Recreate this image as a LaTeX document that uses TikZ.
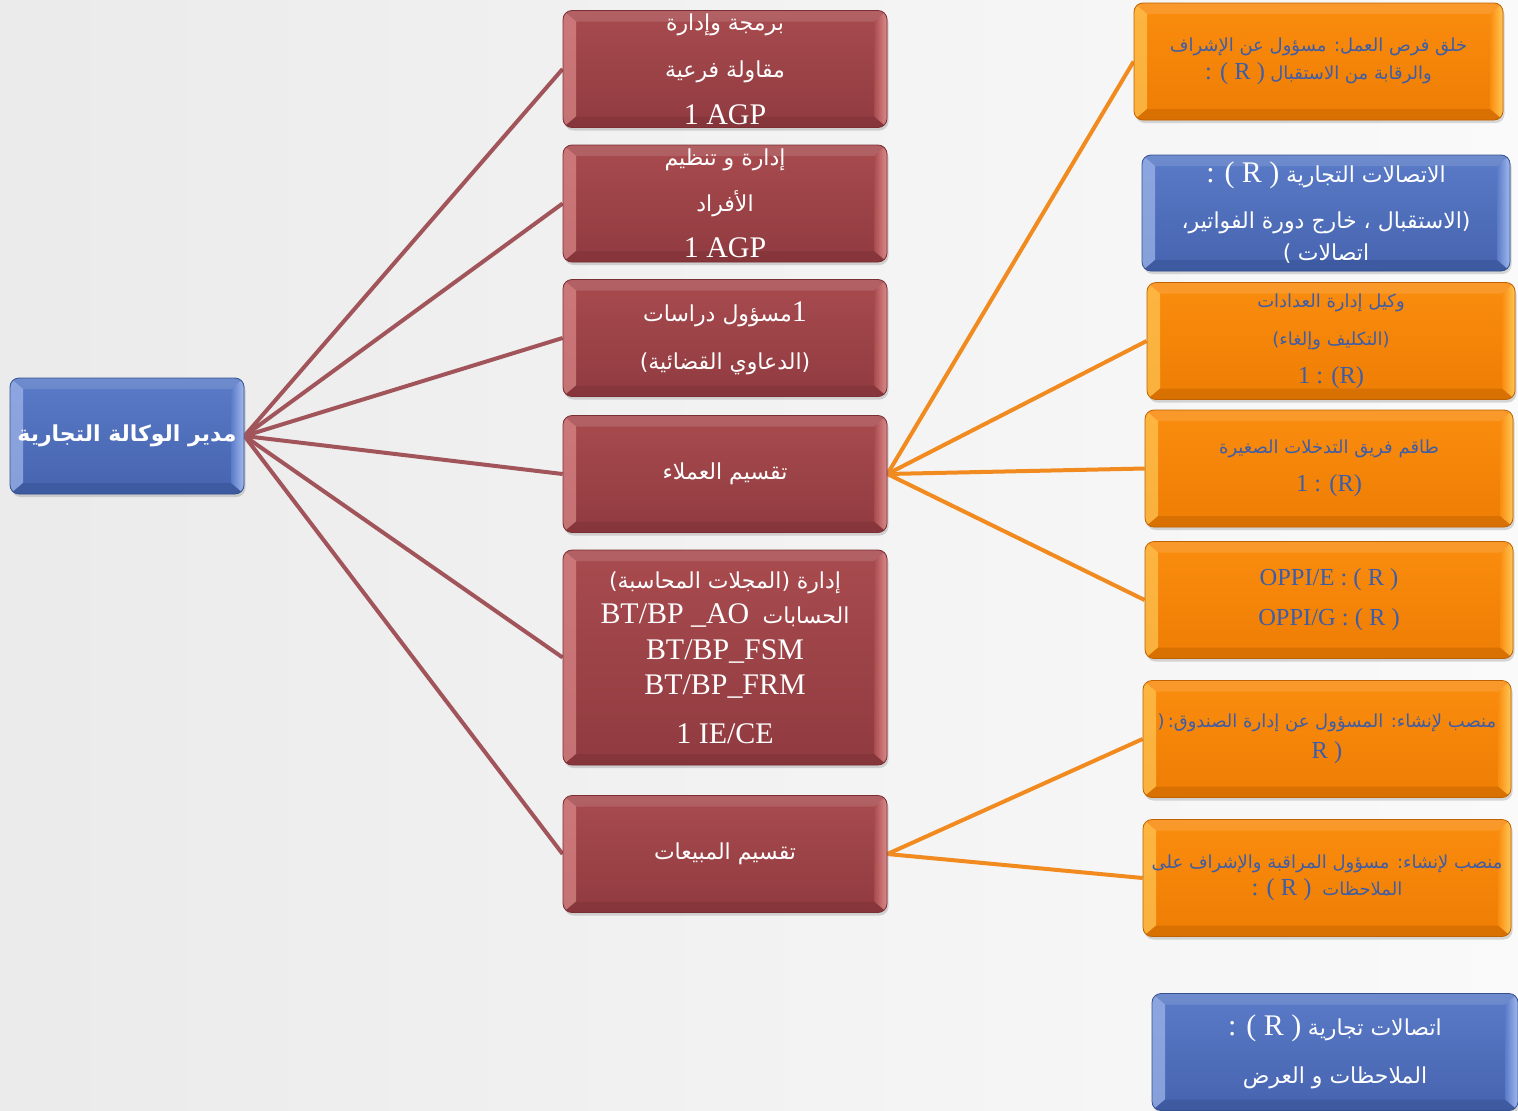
\documentclass[tikz,border=0pt]{standalone}
\usepackage{fontspec}
\usetikzlibrary{shadows,backgrounds}
\TeXXeTstate=1
\newfontfamily\arfont[Script=Arabic]{DejaVu Sans}
\newfontfamily\latfont[Scale=1.36]{Liberation Serif}
\newfontfamily\plainsans{DejaVu Sans}
\newcommand\artxt[1]{{\arfont\beginR #1\endR}}
\newcommand\lattxt[1]{{\latfont #1}}
\newcommand\pun[1]{{\plainsans #1}}

\definecolor{redtop}{HTML}{A84B4F}
\definecolor{redbot}{HTML}{903B40}
\definecolor{redlite}{HTML}{DC8A8A}
\definecolor{rededge}{HTML}{7A2F34}
\definecolor{bluetop}{HTML}{5A7BC8}
\definecolor{bluebot}{HTML}{4663AE}
\definecolor{bluelite}{HTML}{A3B9EC}
\definecolor{blueedge}{HTML}{34508F}
\definecolor{orgtop}{HTML}{FA8C0E}
\definecolor{orgbot}{HTML}{EE7E04}
\definecolor{orglite}{HTML}{FFC756}
\definecolor{orgedge}{HTML}{BF6200}
\definecolor{orgtext}{HTML}{3D5DA8}
\definecolor{redline}{HTML}{A1555A}
\definecolor{orgline}{HTML}{F18B1F}

\tikzset{
  panel/.style n args={4}{
    rounded corners=9pt, draw=#4, line width=0.8pt,
    top color=#1, bottom color=#2, inner sep=0pt, align=center,
    drop shadow={shadow xshift=1.5pt, shadow yshift=-3pt, opacity=.3},
    path picture={
      \fill[sharp corners,#3,opacity=.7]
        (path picture bounding box.north west)
        -- ([xshift=13pt,yshift=-11pt]path picture bounding box.north west)
        -- ([xshift=13pt,yshift=11pt]path picture bounding box.south west)
        -- (path picture bounding box.south west) -- cycle;
      \shade[sharp corners,left color=#1,right color=#3]
        ([xshift=-13pt,yshift=-11pt]path picture bounding box.north east)
        -- (path picture bounding box.north east)
        -- (path picture bounding box.south east)
        -- ([xshift=-13pt,yshift=11pt]path picture bounding box.south east) -- cycle;
      \fill[sharp corners,#4,opacity=.45]
        (path picture bounding box.south west)
        -- ([xshift=13pt,yshift=11pt]path picture bounding box.south west)
        -- ([xshift=-13pt,yshift=11pt]path picture bounding box.south east)
        -- (path picture bounding box.south east) -- cycle;
      \fill[sharp corners,white,opacity=.12]
        (path picture bounding box.north west)
        -- ([xshift=13pt,yshift=-11pt]path picture bounding box.north west)
        -- ([xshift=-13pt,yshift=-11pt]path picture bounding box.north east)
        -- (path picture bounding box.north east) -- cycle;
    }
  },
  redbox/.style={panel={redtop}{redbot}{redlite}{rededge},
    minimum width=324pt, minimum height=117pt, text=white},
  bluebox/.style={panel={bluetop}{bluebot}{bluelite}{blueedge},
    minimum width=368pt, minimum height=116pt, text=white},
  orangebox/.style={panel={orgtop}{orgbot}{orglite}{orgedge},
    minimum width=368pt, minimum height=117pt, text=orgtext},
  redconn/.style={draw=redline, line width=4pt},
  orgconn/.style={draw=orgline, line width=4pt},
}

\begin{document}
\begin{tikzpicture}[x=1pt,y=-1pt]
\begin{scope}[on background layer]
  \shade[left color=black!8, middle color=white, right color=black!2]
    (0,0) rectangle (1518,1111);
\end{scope}
\useasboundingbox (0,0) rectangle (1518,1111);

% agency manager
\node[bluebox, minimum width=234pt, minimum height=116pt,
      font=\fontsize{22}{26}\selectfont\bfseries] (mgr) at (127,436)
  {\artxt{مدير الوكالة التجارية}};

% middle column
\node[redbox, font=\fontsize{22}{47}\selectfont] (r1) at (725,69)
  {\artxt{برمجة وإدارة}\\\artxt{مقاولة فرعية}\\\lattxt{1 AGP}};
\node[redbox, font=\fontsize{22}{46}\selectfont] (r2) at (725,203.5)
  {\artxt{إدارة و تنظيم}\\\artxt{الأفراد}\\\lattxt{1 AGP}};
\node[redbox, font=\fontsize{22}{48}\selectfont] (r3) at (725,338)
  {\artxt{مسؤول دراسات}\lattxt{1}\\\pun{(}\artxt{الدعاوي القضائية}\pun{)}};
\node[redbox, font=\fontsize{22}{46}\selectfont] (r4) at (725,474)
  {\artxt{تقسيم العملاء}};
\node[redbox, minimum height=215pt, font=\fontsize{22}{35.5}\selectfont] (r5) at (725,657.5)
  {\pun{(}\artxt{المجلات المحاسبة}\pun{)} \artxt{إدارة}\\
   \lattxt{BT/BP \_AO}\ \ \artxt{الحسابات}\\
   \lattxt{BT/BP\_FSM}\\
   \lattxt{BT/BP\_FRM}\\[13pt]
   \lattxt{1 IE/CE}};
\node[redbox, font=\fontsize{22}{46}\selectfont] (r6) at (725,854)
  {\artxt{تقسيم المبيعات}};

% right column
\node[orangebox, minimum width=369pt, font=\fontsize{18}{28}\selectfont] (o1) at (1318.5,61.5)
  {\artxt{خلق فرص العمل: مسؤول عن الإشراف}\\
   \lattxt{: ( R )} \artxt{والرقابة من الاستقبال}};
\node[bluebox, font=\fontsize{22}{32}\selectfont] (b1) at (1326,213)
  {\lattxt{: ( R )} \artxt{الاتصالات التجارية}\\[14pt]
   \artxt{الاستقبال ، خارج دورة الفواتير،}\pun{)}\\
   \pun{(} \artxt{اتصالات}};
\node[orangebox, font=\fontsize{18}{38}\selectfont] (o2) at (1331,341)
  {\artxt{وكيل إدارة  العدادات}\\
   \pun{(}\artxt{التكليف وإلغاء}\pun{)}\\
   \lattxt{1 : (R)}};
\node[orangebox, font=\fontsize{18}{38}\selectfont] (o3) at (1329,468.5)
  {\artxt{طاقم فريق التدخلات الصغيرة}\\
   \lattxt{1 : (R)}};
\node[orangebox, font=\fontsize{18}{40}\selectfont] (o4) at (1329,600)
  {\lattxt{OPPI/E : ( R )}\\\lattxt{OPPI/G : ( R )}};
\node[orangebox, font=\fontsize{18}{31}\selectfont] (o5) at (1327,739)
  {\pun{)}\,\artxt{منصب لإنشاء: المسؤول عن إدارة الصندوق:}\\
   \lattxt{R )}};
\node[orangebox, font=\fontsize{18}{27}\selectfont] (o6) at (1327,878)
  {\artxt{منصب لإنشاء: مسؤول المراقبة والإشراف على}\\
   \lattxt{: ( R )}\ \ \artxt{الملاحظات}};
\node[bluebox, minimum width=366pt, minimum height=117pt,
      font=\fontsize{22}{48}\selectfont] (b2) at (1335,1052)
  {\lattxt{: ( R )} \artxt{اتصالات تجارية}\\
   \artxt{الملاحظات و العرض}};

% connectors
\begin{scope}[on background layer]
  \foreach \t in {r1,r2,r3,r4,r5,r6}
    \draw[redconn] (mgr.east) -- (\t.west);
  \foreach \t in {o1,o2,o3,o4}
    \draw[orgconn] (r4.east) -- (\t.west);
  \foreach \t in {o5,o6}
    \draw[orgconn] (r6.east) -- (\t.west);
\end{scope}
\end{tikzpicture}
\end{document}
